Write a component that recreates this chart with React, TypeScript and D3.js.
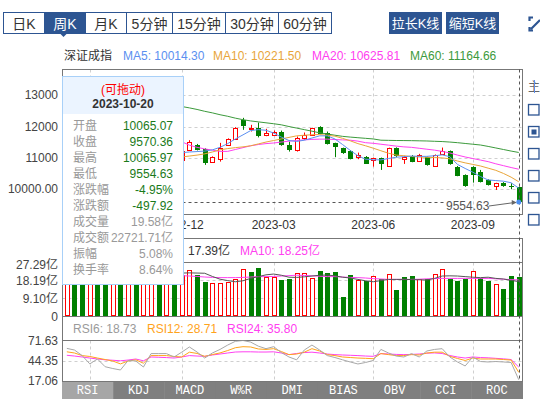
import React, { useEffect, useRef } from 'react';
import * as d3 from 'd3';

// weekly candles, 深证成指
const dates = [
  '2022-08-12', '2022-08-19', '2022-08-26', '2022-09-02', '2022-09-09', '2022-09-16', '2022-09-23', '2022-09-30',
  '2022-10-14', '2022-10-21', '2022-10-28', '2022-11-04', '2022-11-11', '2022-11-18', '2022-11-25', '2022-12-02',
  '2022-12-09', '2022-12-16', '2022-12-23', '2022-12-30', '2023-01-06', '2023-01-13', '2023-01-20', '2023-02-03',
  '2023-02-10', '2023-02-17', '2023-02-24', '2023-03-03', '2023-03-10', '2023-03-17', '2023-03-24', '2023-03-31',
  '2023-04-07', '2023-04-14', '2023-04-21', '2023-04-28', '2023-05-05', '2023-05-12', '2023-05-19', '2023-05-26',
  '2023-06-02', '2023-06-09', '2023-06-16', '2023-06-21', '2023-06-30', '2023-07-07', '2023-07-14', '2023-07-21',
  '2023-07-28', '2023-08-04', '2023-08-11', '2023-08-18', '2023-08-25', '2023-09-01', '2023-09-08', '2023-09-15',
  '2023-09-22', '2023-09-28', '2023-10-13', '2023-10-20',
];
const prevClose = 12300;
const opens = [
  12300, 12450, 12380, 12000, 12080, 11880, 11250, 11280, 10800, 10950, 10620, 10700, 11050, 10990, 11040, 10900,
  11248, 11410, 11281, 10852, 10958, 11400, 11603, 12216, 11932, 11948, 11710, 11732, 11839, 11410, 11248, 11626,
  11732, 12000, 11787, 11465, 11303, 11226, 11013, 11032, 10926, 10981, 10732, 11303, 10948, 11055, 10903, 11013,
  10742, 11142, 11216, 10710, 10442, 10710, 10548, 10281, 10087, 10194, 10077, 10065.07,
];
const highs = [
  12550, 12560, 12450, 12150, 12150, 11900, 11400, 11300, 11200, 11000, 10800, 11100, 11200, 11150, 11100, 11300,
  11560, 11440, 11300, 11040, 11474, 11620, 11980, 12280, 12055, 12129, 11926, 11870, 11870, 11516, 11678, 11807,
  11960, 12010, 11839, 11480, 11320, 11240, 11161, 11050, 11000, 11000, 11320, 11330, 11055, 11080, 11120, 11030,
  11100, 11323, 11230, 10730, 10460, 10720, 10603, 10300, 10190, 10210, 10174, 10065.97,
];
const lows = [
  12200, 12300, 11950, 11800, 11850, 11200, 11000, 10750, 10700, 10550, 10200, 10650, 10850, 10900, 10800, 10850,
  11220, 11230, 10765, 10830, 10871, 11380, 11590, 11894, 11839, 11650, 11690, 11700, 11380, 11194, 11194, 11571,
  11720, 11770, 11420, 11013, 11120, 10942, 10948, 10800, 10710, 10603, 10710, 11010, 10797, 10850, 10880, 10740,
  10720, 11087, 10770, 10400, 10060, 10194, 10200, 10100, 9958, 10060, 9981, 9554.63,
];
const closes = [
  12450, 12380, 12020, 12080, 11900, 11260, 11300, 10780, 10950, 10650, 10700, 11050, 10980, 11050, 10900, 11200,
  11516, 11248, 10819, 11013, 11303, 11594, 11948, 12032, 11958, 11678, 11787, 11839, 11410, 11248, 11626, 11732,
  11948, 11787, 11442, 11336, 11142, 10981, 11087, 10819, 10981, 10787, 11303, 11032, 11013, 10871, 11087, 10765,
  11087, 11226, 10787, 10419, 10087, 10442, 10226, 10119, 10174, 10087, 10055, 9570.36,
];
// 成交量 (亿)
const volumes = [
  27.29, 24.5, 22.0, 20.5, 21.8, 23.0, 18.5, 17.2, 19.0, 21.5, 20.2, 24.8, 22.3, 21.0, 19.6, 20.8,
  23.2, 20.7, 17.3, 16.5, 16.5, 17.3, 18.5, 23.6, 22.1, 24.1, 19.6, 19.6, 18.2, 18.7, 21.6, 21.6,
  19.0, 22.7, 21.7, 22.2, 9.6, 20.7, 18.2, 17.8, 20.2, 18.7, 21.2, 13.1, 19.7, 20.2, 18.7, 18.5,
  21.2, 23.6, 18.7, 17.8, 18.5, 22.7, 19.4, 17.8, 16.2, 13.6, 20.2, 19.58,
];
const ma5 = [
  12380, 12400, 12330, 12250, 12160, 11920, 11690, 11460, 11240, 10990, 10880, 10830, 10870, 10890, 10940, 11160,
  11180, 11194, 11210, 11248, 11330, 11450, 11600, 11732, 11870, 11900, 11880, 11790, 11660, 11550, 11520, 11560,
  11630, 11700, 11700, 11600, 11420, 11230, 11060, 10948, 10930, 10926, 10970, 11013, 11030, 11050, 11040, 11040,
  11060, 11087, 11030, 10780, 10650, 10530, 10390, 10280, 10260, 10240, 10190, 10014.30,
];
const ma10 = [
  12500, 12480, 12440, 12380, 12300, 12160, 12000, 11850, 11700, 11550, 11400, 11250, 11120, 11050, 11010, 11020,
  11050, 11080, 11120, 11180, 11250, 11290, 11320, 11345, 11380, 11440, 11500, 11550, 11600, 11650, 11700, 11720,
  11735, 11742, 11720, 11690, 11620, 11540, 11450, 11380, 11303, 11220, 11140, 11080, 11060, 11035, 11020, 11010,
  11000, 10990, 10960, 10890, 10830, 10780, 10730, 10660, 10590, 10490, 10370, 10221.50,
];
const ma20 = [
  12700, 12690, 12660, 12620, 12570, 12500, 12420, 12330, 12230, 12120, 12000, 11900, 11800, 11700, 11600, 11510,
  11400, 11330, 11280, 11240, 11200, 11200, 11260, 11320, 11380, 11420, 11450, 11470, 11500, 11530, 11550, 11570,
  11585, 11594, 11594, 11580, 11570, 11560, 11530, 11480, 11460, 11430, 11400, 11370, 11345, 11330, 11300, 11270,
  11240, 11200, 11150, 11080, 11020, 10970, 10920, 10870, 10800, 10740, 10680, 10625.81,
];
const ma60 = [
  13350, 13320, 13290, 13250, 13210, 13160, 13110, 13060, 13000, 12940, 12880, 12830, 12780, 12730, 12690, 12645,
  12600, 12550, 12490, 12440, 12380, 12330, 12270, 12220, 12180, 12150, 12120, 12090, 12055, 12000, 11950, 11900,
  11850, 11797, 11760, 11720, 11684, 11660, 11640, 11620, 11600, 11560, 11555, 11550, 11548, 11545, 11540, 11535,
  11525, 11516, 11500, 11480, 11455, 11430, 11405, 11360, 11310, 11260, 11210, 11164.66,
];
const volMa5 = [
  23.5, 24.0, 24.2, 24.0, 23.2, 22.4, 21.2, 20.2, 19.9, 19.8, 19.3, 20.5, 21.6, 21.9, 21.7, 21.7,
  21.8, 21.7, 21.6, 20.0, 18.6, 17.9, 17.3, 17.8, 19.0, 19.9, 20.8, 21.2, 20.6, 19.6, 19.5, 19.8,
  20.2, 20.6, 20.7, 20.3, 19.6, 19.2, 18.5, 17.8, 17.3, 17.9, 18.5, 18.5, 18.5, 18.4, 18.3, 18.2,
  19.0, 20.2, 20.3, 20.2, 19.9, 19.6, 19.4, 19.6, 19.0, 18.7, 18.0, 17.39,
];
const volMa10 = [
  22.0, 22.3, 22.5, 22.6, 22.6, 22.6, 22.4, 22.1, 21.8, 21.5, 21.3, 21.2, 21.0, 20.8, 20.6, 20.4,
  20.2, 20.0, 19.7, 19.5, 19.4, 19.4, 19.4, 19.5, 19.7, 19.9, 19.9, 20.0, 20.2, 20.4, 20.6, 20.5,
  20.3, 20.1, 19.9, 19.9, 19.7, 19.5, 19.4, 19.2, 18.9, 18.7, 18.5, 18.5, 18.5, 18.5, 18.6, 18.8,
  18.9, 19.0, 19.0, 19.0, 19.0, 19.0, 19.0, 19.0, 18.8, 18.6, 18.4, 18.25,
];
const rsi6 = [
  61.0, 58.8, 51.3, 40.1, 46.7, 36.3, 33.9, 31.9, 44.7, 44.0, 35.9, 54.0, 54.0, 54.0, 49.4, 55.9,
  62.9, 56.1, 48.0, 54.8, 59.6, 65.5, 70.5, 71.63, 69.5, 64.0, 60.6, 63.3, 55.4, 49.4, 45.6, 58.8,
  65.5, 58.8, 51.3, 48.7, 45.6, 42.7, 40.0, 42.0, 44.7, 59.6, 54.8, 50.7, 49.4, 54.0, 49.4, 57.5,
  59.6, 60.6, 49.4, 42.7, 37.3, 49.4, 43.3, 42.7, 43.3, 42.7, 42.0, 18.73,
];
const rsi12 = [
  56.4, 54.8, 51.3, 50.1, 48.0, 46.0, 44.0, 40.1, 44.0, 45.6, 41.0, 51.3, 51.3, 51.3, 50.1, 49.4,
  55.9, 54.2, 50.3, 52.7, 54.9, 58.1, 61.9, 63.3, 62.9, 60.2, 59.6, 60.6, 56.8, 52.6, 53.4, 55.9,
  60.6, 57.5, 52.6, 51.3, 49.4, 48.7, 48.0, 47.6, 47.1, 54.0, 52.6, 51.3, 51.3, 52.6, 52.1, 54.8,
  55.9, 55.9, 50.3, 47.4, 44.7, 48.0, 46.7, 46.7, 46.7, 46.0, 45.3, 28.71,
];
const rsi24 = [
  51.7, 50.7, 49.4, 48.0, 46.7, 45.6, 45.0, 44.3, 45.3, 46.7, 44.3, 49.4, 49.0, 48.6, 48.0, 49.4,
  51.3, 50.7, 50.3, 52.1, 53.4, 54.8, 56.1, 56.4, 56.4, 56.1, 56.1, 56.4, 54.8, 52.6, 54.1, 55.4,
  55.9, 54.8, 53.4, 52.6, 52.1, 51.7, 51.3, 50.7, 50.3, 54.0, 53.4, 52.9, 52.6, 52.9, 53.4, 54.5,
  54.9, 54.1, 51.4, 49.4, 48.0, 49.4, 48.7, 48.3, 47.6, 46.9, 46.0, 35.80,
];

const priceTicks = [13000, 12000, 11000, 10000];
const priceTickLabels = ['13000', '12000', '11000', '10000.00'];
const volTicks = [27.29, 18.19, 9.1, 0];
const volTickLabels = ['27.29亿', '18.19亿', '9.10亿', '0'];
const rsiTicks = [71.63, 44.35, 17.06];
const rsiTickLabels = ['71.63', '44.35', '17.06'];
// quarter grid lines; the 2022-09 label sits under the tooltip so only later labels are written
const quarterDates = ['2022-09-02', '2022-12-02', '2023-03-03', '2023-06-02', '2023-09-01'];
const labelDates = ['2022-12-02', '2023-03-03', '2023-06-02', '2023-09-01'];
const labelTexts = ['2022-12', '2023-03', '2023-06', '2023-09'];

const periodTabs = ['日K', '周K', '月K', '5分钟', '15分钟', '30分钟', '60分钟'];
const periodEdges = [3.5, 44.5, 85.5, 126.5, 172.5, 225.5, 278.5, 331.5];
const indicatorTabs = ['RSI', 'KDJ', 'MACD', 'W%R', 'DMI', 'BIAS', 'OBV', 'CCI', 'ROC'];

const maLegend = [
  { label: 'MA5: 10014.30', color: '#5b8ff0', x: 123 },
  { label: 'MA10: 10221.50', color: '#e8a53a', x: 213 },
  { label: 'MA20: 10625.81', color: '#ff40f0', x: 312 },
  { label: 'MA60: 11164.66', color: '#3c9a3c', x: 410 },
];
const rsiLegend = [
  { label: 'RSI6: 18.73', color: '#9a9a9a', x: 73 },
  { label: 'RSI12: 28.71', color: '#ffa31a', x: 147 },
  { label: 'RSI24: 35.80', color: '#ff40f0', x: 227 },
];
const tipRows = [
  ['开盘', '10065.07'], ['收盘', '9570.36'], ['最高', '10065.97'], ['最低', '9554.63'],
  ['涨跌幅', '-4.95%'], ['涨跌额', '-497.92'], ['成交量', '19.58亿'], ['成交额', '22721.71亿'],
  ['振幅', '5.08%'], ['换手率', '8.64%'],
];

const FONT = "'Liberation Sans', Arial, 'Noto Sans CJK SC', sans-serif";
const BLUE = '#2d5592';
const UP = '#ff0000';
const DOWN = '#008000';
const FRAME = '#777';
const GRID = '#cfcfcf';

const L = 62.5;
const R = 522.5;

const App = () => {
  const ref = useRef<SVGSVGElement>(null);

  useEffect(() => {
    const svg = d3.select(ref.current);
    svg.selectAll('*').remove();

    const text = (g: any, x: number, y: number, s: string, fill: string, size = 12, anchor = 'start') =>
      g.append('text')
        .attr('x', x).attr('y', y)
        .attr('fill', fill)
        .attr('font-size', size)
        .attr('text-anchor', anchor)
        .attr('dominant-baseline', 'central')
        .text(s);

    const x = d3.scaleBand<string>().domain(dates).range([63, 522.6]);
    const cx = (i: number) => (x(dates[i]) as number) + x.bandwidth() / 2;
    const px = (i: number) => Math.round(cx(i));

    const yPrice = d3.scaleLinear().domain([9184, 13852]).range([214, 69]);
    const yVol = d3.scaleLinear().domain([0, 27.29]).range([316, 262]);
    const yRsi = d3.scaleLinear().domain([17.06, 71.63]).range([381, 340.5]);

    const defs = svg.append('defs');
    defs.append('clipPath').attr('id', 'clipMain')
      .append('rect').attr('x', L).attr('y', 69.5).attr('width', R - L).attr('height', 145);
    defs.append('clipPath').attr('id', 'clipVol')
      .append('rect').attr('x', L).attr('y', 262.5).attr('width', R - L).attr('height', 54);
    defs.append('clipPath').attr('id', 'clipRsi')
      .append('rect').attr('x', L).attr('y', 340.5).attr('width', R - L).attr('height', 41);

    // ---- top period tabs ----
    periodTabs.forEach((t, k) => {
      const x0 = periodEdges[k];
      const x1 = periodEdges[k + 1];
      const sel = k === 1;
      svg.append('rect').attr('x', x0).attr('y', 12.5).attr('width', x1 - x0).attr('height', 21)
        .attr('fill', sel ? BLUE : '#fff').attr('stroke', BLUE);
      text(svg, (x0 + x1) / 2, 23.5, t, sel ? '#fff' : '#333', 14, 'middle');
    });
    svg.append('path').attr('d', 'M60,33.5 L67,33.5 L63.5,37 Z').attr('fill', BLUE);

    [['拉长K线', 389], ['缩短K线', 446]].forEach(([t, bx]: any) => {
      svg.append('rect').attr('x', bx).attr('y', 12).attr('width', 53).attr('height', 22).attr('fill', BLUE);
      text(svg, bx + 26.5, 23.5, t, '#fff', 13, 'middle');
    });
    svg.append('path')
      .attr('d', 'M529.5,21 V17.5 H533 M529.5,27 V30.5 H533 M531,29 L540,20')
      .attr('fill', 'none').attr('stroke', BLUE).attr('stroke-width', 2.2);

    // ---- legend ----
    text(svg, 64, 56, '深证成指', '#333');
    maLegend.forEach((m) => text(svg, m.x, 56, m.label, m.color));

    // ---- main panel ----
    priceTicks.forEach((v) => {
      const yy = Math.round(yPrice(v)) + 0.5;
      svg.append('line').attr('x1', L).attr('x2', R).attr('y1', yy).attr('y2', yy)
        .attr('stroke', GRID).attr('stroke-dasharray', '3,3');
    });
    const gridX = (y1: number, y2: number) => quarterDates.forEach((d) => {
      const xx = Math.round(cx(dates.indexOf(d))) + 0.5;
      svg.append('line').attr('x1', xx).attr('x2', xx).attr('y1', y1).attr('y2', y2)
        .attr('stroke', GRID).attr('stroke-dasharray', '3,3');
    });
    gridX(69.5, 214.5);
    svg.append('rect').attr('x', L).attr('y', 69.5).attr('width', R - L).attr('height', 145)
      .attr('fill', 'none').attr('stroke', FRAME);

    const main = svg.append('g').attr('clip-path', 'url(#clipMain)');
    dates.forEach((d, i) => {
      const up = closes[i] >= opens[i];
      const col = up ? UP : DOWN;
      const xc = px(i);
      const top = yPrice(Math.max(opens[i], closes[i]));
      const bot = yPrice(Math.min(opens[i], closes[i]));
      main.append('line').attr('x1', xc + 0.5).attr('x2', xc + 0.5)
        .attr('y1', yPrice(highs[i])).attr('y2', yPrice(lows[i])).attr('stroke', col);
      if (up) {
        main.append('rect').attr('x', xc - 1.5).attr('y', Math.round(top) + 0.5).attr('width', 4)
          .attr('height', Math.max(1, Math.round(bot - top))).attr('fill', '#fff').attr('stroke', col);
      } else {
        main.append('rect').attr('x', xc - 2).attr('y', Math.round(top)).attr('width', 5)
          .attr('height', Math.max(1, Math.round(bot - top))).attr('fill', col);
      }
    });
    const priceLine = d3.line<number>().x((_, i) => cx(i)).y((v) => yPrice(v));
    [[ma60, '#3c9a3c'], [ma20, '#ff40f0'], [ma10, '#e8a53a'], [ma5, '#5b8ff0']].forEach(([arr, c]: any) => {
      main.append('path').attr('d', priceLine(arr)).attr('fill', 'none').attr('stroke', c).attr('stroke-width', 1);
    });

    priceTicks.forEach((v, k) => text(svg, 58, yPrice(v), priceTickLabels[k], '#444', 12, 'end'));
    labelDates.forEach((d, k) => text(svg, cx(dates.indexOf(d)), 225, labelTexts[k], '#333', 12, 'middle'));

    // ---- volume panel ----
    volTicks.slice(1, 3).forEach((v) => {
      const yy = Math.round(yVol(v)) + 0.5;
      svg.append('line').attr('x1', L).attr('x2', R).attr('y1', yy).attr('y2', yy)
        .attr('stroke', GRID).attr('stroke-dasharray', '3,3');
    });
    gridX(262.5, 316.5);
    svg.append('rect').attr('x', L).attr('y', 238.5).attr('width', R - L).attr('height', 78)
      .attr('fill', 'none').attr('stroke', FRAME);
    svg.append('line').attr('x1', L).attr('x2', R).attr('y1', 262.5).attr('y2', 262.5).attr('stroke', FRAME);
    text(svg, 188, 250.5, '17.39亿', '#333');
    text(svg, 240, 250.5, 'MA10: 18.25亿', '#ff40f0');

    const vol = svg.append('g').attr('clip-path', 'url(#clipVol)');
    volumes.forEach((v, i) => {
      const prev = i === 0 ? prevClose : closes[i - 1];
      const up = closes[i] >= prev;
      const xc = px(i);
      const top = Math.round(yVol(v));
      if (up) {
        vol.append('rect').attr('x', xc - 1.5).attr('y', top + 0.5).attr('width', 4)
          .attr('height', 316 - top - 1).attr('fill', '#fff').attr('stroke', UP);
      } else {
        vol.append('rect').attr('x', xc - 2).attr('y', top).attr('width', 5)
          .attr('height', 316 - top).attr('fill', DOWN);
      }
    });
    const volLine = d3.line<number>().x((_, i) => cx(i)).y((v) => yVol(v));
    vol.append('path').attr('d', volLine(volMa10)).attr('fill', 'none').attr('stroke', '#ff40f0');
    vol.append('path').attr('d', volLine(volMa5)).attr('fill', 'none').attr('stroke', '#555');
    volTicks.forEach((v, k) => text(svg, 58, Math.max(265, yVol(v) + 1), volTickLabels[k], '#444', 12, 'end'));

    // ---- RSI panel ----
    {
      const yy = Math.round(yRsi(44.35)) + 0.5;
      svg.append('line').attr('x1', L).attr('x2', R).attr('y1', yy).attr('y2', yy)
        .attr('stroke', GRID).attr('stroke-dasharray', '3,3');
    }
    gridX(340.5, 381.5);
    svg.append('rect').attr('x', L).attr('y', 316.5).attr('width', R - L).attr('height', 65)
      .attr('fill', 'none').attr('stroke', FRAME);
    svg.append('line').attr('x1', L).attr('x2', R).attr('y1', 340.5).attr('y2', 340.5).attr('stroke', FRAME);
    rsiLegend.forEach((m) => text(svg, m.x, 328.5, m.label, m.color));
    const rsiG = svg.append('g').attr('clip-path', 'url(#clipRsi)');
    const rsiLine = d3.line<number>().x((_, i) => cx(i)).y((v) => yRsi(v));
    [[rsi24, '#ff40f0'], [rsi12, '#ffa31a'], [rsi6, '#a8a8a8']].forEach(([arr, c]: any) => {
      rsiG.append('path').attr('d', rsiLine(arr)).attr('fill', 'none').attr('stroke', c);
    });
    rsiTicks.forEach((v, k) => text(svg, 58, yRsi(v), rsiTickLabels[k], '#444', 12, 'end'));

    // ---- indicator tabs ----
    const tw = (R - L + 0.5) / indicatorTabs.length;
    indicatorTabs.forEach((t, k) => {
      svg.append('rect').attr('x', 62 + k * tw).attr('y', 382).attr('width', tw + 0.5).attr('height', 17)
        .attr('fill', k === 0 ? '#a6a6a6' : '#7f7f7f');
      svg.append('text').attr('x', 62 + (k + 0.5) * tw).attr('y', 391)
        .attr('fill', '#fff').attr('font-size', 12).attr('text-anchor', 'middle')
        .attr('dominant-baseline', 'central').attr('font-family', "'Liberation Mono', monospace")
        .text(t);
    });

    // ---- crosshair & low marker ----
    const xl = px(59) + 0.5;
    svg.append('line').attr('x1', xl).attr('x2', xl).attr('y1', 69.5).attr('y2', 381.5)
      .attr('stroke', '#555').attr('stroke-dasharray', '3,3');
    const yc = Math.round(yPrice(closes[59])) + 0.5;
    svg.append('line').attr('x1', L).attr('x2', 445).attr('y1', yc).attr('y2', yc)
      .attr('stroke', '#555').attr('stroke-dasharray', '3,3');
    text(svg, 446, 205.5, '9554.63', '#555');
    const yLow = yPrice(lows[59]);
    svg.append('line').attr('x1', 489).attr('y1', 206).attr('x2', cx(59) - 4).attr('y2', yLow)
      .attr('stroke', '#666');
    svg.append('path')
      .attr('d', `M${cx(59) - 2},${yLow} l-5,-2.5 l0,5 Z`).attr('fill', '#666');
    svg.append('circle').attr('cx', cx(59)).attr('cy', yPrice(closes[59])).attr('r', 2.5).attr('fill', '#4a8ef0');

    // ---- tooltip ----
    const tip = svg.append('g');
    tip.append('rect').attr('x', 62.5).attr('y', 76.5).attr('width', 121).attr('height', 208)
      .attr('fill', '#fff').attr('stroke', '#a8d0f8');
    tip.append('rect').attr('x', 63).attr('y', 77).attr('width', 120).attr('height', 37).attr('fill', '#ebf4ff');
    text(tip, 123, 90, '(可拖动)', '#ff0000', 12, 'middle');
    text(tip, 123, 104, '2023-10-20', '#333', 12, 'middle').attr('font-weight', 'bold');
    tipRows.forEach(([k, v], r) => {
      const yy = 125.7 + r * 16;
      text(tip, 73, yy, k, '#999');
      text(tip, 173, yy, v, r < 6 ? '#1a7a1a' : '#999', 12, 'end');
    });

    // ---- right side switches ----
    text(svg, 528, 87, '主', '#666', 12);
    svg.append('line').attr('x1', 534.5).attr('x2', 534.5).attr('y1', 80).attr('y2', 93).attr('stroke', '#5b8ff0');
    [104.5, 126.5, 148.5, 170.5, 192.5, 214.5].forEach((yy, k) => {
      svg.append('rect').attr('x', 528.5).attr('y', yy).attr('width', 10.5).attr('height', 10.5)
        .attr('fill', '#fff').attr('stroke', BLUE).attr('stroke-width', 1.3);
      if (k === 1) {
        svg.append('rect').attr('x', 531.5).attr('y', yy + 3).attr('width', 5).attr('height', 5).attr('fill', BLUE);
      }
    });
  }, []);

  return (
    <svg
      ref={ref}
      width={540}
      height={399}
      style={{ position: 'absolute', left: 0, top: 0, fontFamily: FONT, background: '#fff' }}
    />
  );
};

export default App;
